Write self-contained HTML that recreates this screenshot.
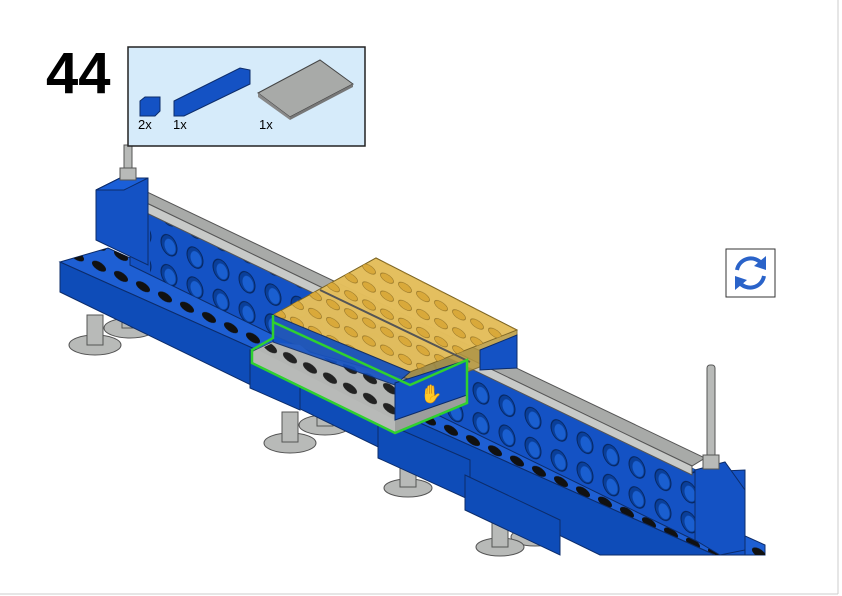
<!DOCTYPE html>
<html><head><meta charset="utf-8"><style>
html,body{margin:0;padding:0;background:#fff;}
body{width:842px;height:596px;position:relative;overflow:hidden;font-family:"Liberation Sans",sans-serif;}
</style></head><body>
<svg width="842" height="596" viewBox="0 0 842 596" xmlns="http://www.w3.org/2000/svg" style="position:absolute;left:0;top:0">
<defs>
<pattern id="studs" width="22" height="21" patternUnits="userSpaceOnUse" patternTransform="skewY(25)">
<ellipse cx="11" cy="10" rx="7" ry="4.5" fill="#111"/>
</pattern>
<pattern id="holes" width="26" height="30" patternUnits="userSpaceOnUse" patternTransform="skewY(25.4)">
<ellipse cx="13" cy="15" rx="8" ry="10" fill="#0a3f9a" stroke="#06245a" stroke-width="1"/>
<ellipse cx="14" cy="16" rx="5.5" ry="7.5" fill="#1a5fd0"/>
</pattern>
<pattern id="ystuds" width="18" height="18" patternUnits="userSpaceOnUse" patternTransform="skewY(27)">
<ellipse cx="9" cy="9" rx="6.5" ry="4" fill="#d9a93a" stroke="#8a6a20" stroke-width=".6"/>
</pattern>
<pattern id="gstuds" width="20" height="20" patternUnits="userSpaceOnUse" patternTransform="skewY(27)">
<ellipse cx="10" cy="10" rx="7" ry="4.5" fill="#222"/>
</pattern>
</defs>
<!-- page border -->
<line x1="838" y1="0" x2="838" y2="594" stroke="#ccc" stroke-width="1"/>
<line x1="0" y1="594" x2="838" y2="594" stroke="#ccc" stroke-width="1"/>

<!-- feet -->
<g fill="#b8bab8" stroke="#555" stroke-width="1">
<ellipse cx="130" cy="328" rx="26" ry="10"/><rect x="122" y="300" width="16" height="28"/>
<ellipse cx="95" cy="345" rx="26" ry="10"/><rect x="87" y="315" width="16" height="30"/>
<ellipse cx="325" cy="425" rx="26" ry="10"/><rect x="317" y="398" width="16" height="28"/>
<ellipse cx="290" cy="443" rx="26" ry="10"/><rect x="282" y="412" width="16" height="30"/>
<ellipse cx="408" cy="488" rx="24" ry="9"/><rect x="400" y="455" width="16" height="32"/>
<ellipse cx="535" cy="537" rx="24" ry="9"/><rect x="527" y="505" width="16" height="32"/>
<ellipse cx="500" cy="547" rx="24" ry="9"/><rect x="492" y="515" width="16" height="32"/>
</g>

<!-- lower plate row -->
<polygon points="60,262 108,248 765,545 765,555 715,555" fill="#1e5fd3" stroke="#0c2c6a"/>
<polygon points="60,262 108,248 765,545 765,555 715,555" fill="url(#studs)"/>
<polygon points="60,262 715,555 600,555 60,292" fill="#0e4cb8" stroke="#0c2c6a"/>
<!-- under blocks -->
<polygon points="250,350 300,372 300,410 250,388" fill="#0e4cb8" stroke="#0c2c6a"/>
<polygon points="378,420 470,460 470,500 378,458" fill="#0e4cb8" stroke="#0c2c6a"/>
<polygon points="465,475 560,520 560,555 465,510" fill="#0e4cb8" stroke="#0c2c6a"/>

<!-- upper beam -->
<polygon points="130,205 700,472 745,470 745,555 725,555 130,265" fill="#1452c4" stroke="#0c2c6a"/>
<polygon points="150,212 700,472 700,540 150,275" fill="url(#holes)"/>
<!-- rail -->
<polygon points="130,195 143,190 705,458 692,466" fill="#a8aaa8" stroke="#555"/>
<polygon points="130,195 692,466 692,475 130,205" fill="#c8cac8" stroke="#555"/>
<!-- left end block -->
<polygon points="96,190 120,178 148,178 148,265 96,240" fill="#1452c4" stroke="#0c2c6a"/>
<polygon points="96,190 120,178 148,178 124,190" fill="#1a5fd8" stroke="#0c2c6a"/>
<rect x="124" y="145" width="8" height="30" fill="#b8bab8" stroke="#555"/>
<rect x="120" y="168" width="16" height="12" fill="#b8bab8" stroke="#555"/>
<!-- right end block -->
<polygon points="695,470 725,462 745,490 745,550 720,555 695,540" fill="#1452c4" stroke="#0c2c6a"/>
<rect x="707" y="365" width="8" height="95" rx="3" fill="#b8bab8" stroke="#555"/>
<rect x="703" y="455" width="16" height="14" fill="#b8bab8" stroke="#555"/>

<!-- yellow plate -->
<polygon points="273,315 376,258 517,330 517,352 410,395 273,335" fill="#b8983a" opacity=".85" stroke="#7a6220"/>
<polygon points="273,315 376,258 517,330 410,372" fill="#e8c260" opacity=".9" stroke="#7a6220"/>
<polygon points="273,315 376,258 517,330 410,372" fill="url(#ystuds)"/>
<line x1="320" y1="290" x2="470" y2="362" stroke="#555" stroke-width="2"/>
<polygon points="480,350 517,335 517,368 480,370" fill="#1452c4" stroke="#0c2c6a"/>

<!-- grey plate + new brick -->
<polygon points="252,352 273,342 467,395 467,403 395,433 252,363" fill="#9c9e9c" stroke="#444"/>
<polygon points="252,352 273,342 300,345 395,420 395,433 252,363" fill="#b8bab8"/>
<polygon points="258,350 275,342 395,380 395,420" fill="#b4b6b4"/>
<polygon points="258,350 275,342 395,380 395,420" fill="url(#gstuds)"/>
<polygon points="273,315 273,342 395,385 410,372" fill="#1452c4" stroke="#0c2c6a" opacity=".9"/>
<polygon points="395,383 467,360 467,395 395,420" fill="#1452c4" stroke="#0c2c6a"/>
<text x="420" y="400" font-size="18" fill="#fff">✋</text>
<polyline points="273,315 273,338 252,350 252,363 395,433 467,403 467,360 410,385 273,322" fill="none" stroke="#2fd12f" stroke-width="2.5"/>

<!-- step number -->
<text x="46" y="93" font-size="58" font-weight="bold" fill="#000" font-family="Liberation Sans,sans-serif">44</text>

<!-- parts box -->
<rect x="128" y="47" width="237" height="99" fill="#d6ebfa" stroke="#222" stroke-width="1.5"/>
<polygon points="140,101 145,97 160,97 160,111 155,116 140,116" fill="#1452c4" stroke="#0c2c6a"/>
<polygon points="174,101 240,68 250,70 250,84 184,116 174,116" fill="#1452c4" stroke="#0c2c6a"/>
<polygon points="258,93 320,60 353,84 290,117" fill="#a8aaa8" stroke="#444"/>
<polygon points="258,93 290,117 290,120 258,97" fill="#888"/>
<polygon points="290,117 353,84 353,87 290,120" fill="#777"/>
<g font-size="13" fill="#000">
<text x="138" y="129">2x</text><text x="173" y="129">1x</text><text x="259" y="129">1x</text>
</g>

<!-- rotate icon -->
<rect x="726" y="249" width="49" height="48" fill="#fff" stroke="#333" stroke-width="1"/>
<path d="M737 270 A14 14 0 0 1 762 264" fill="none" stroke="#2a63c9" stroke-width="4"/>
<polygon points="766,256 766,270 754,266" fill="#2a63c9"/>
<path d="M764 276 A14 14 0 0 1 739 282" fill="none" stroke="#2a63c9" stroke-width="4"/>
<polygon points="735,290 735,276 747,280" fill="#2a63c9"/>
</svg>
</body></html>
